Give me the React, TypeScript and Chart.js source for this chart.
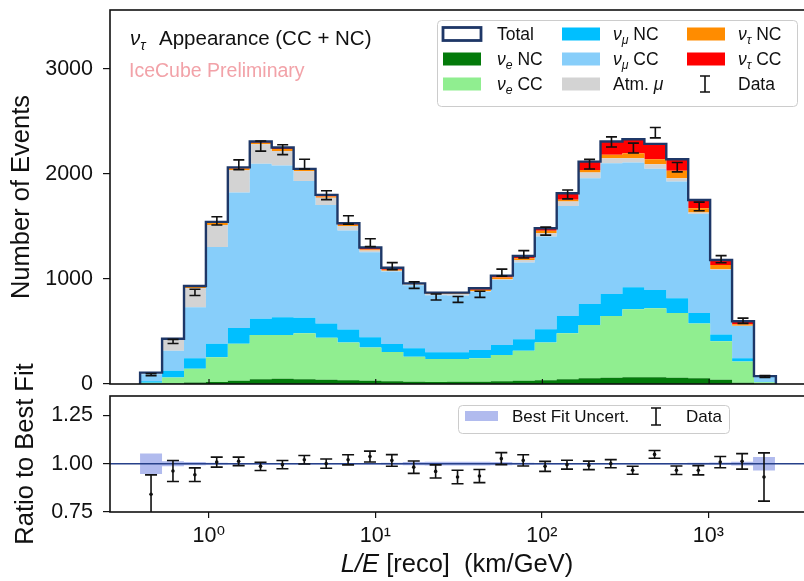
import React, { useEffect, useRef } from "react";
import { Chart, registerables } from "chart.js";

Chart.register(...registerables);

// ---------------- data ----------------
const binEdges = [
  0.386, 0.523, 0.708, 0.958, 1.297, 1.756, 2.377, 3.218, 4.355, 5.896, 7.98, 10.8, 14.62, 19.79, 26.79,
  36.27, 49.09, 66.45, 89.95, 121.8, 164.8, 223.1, 302.0, 408.9, 553.4, 749.2, 1014, 1373, 1858, 2515,
];
const nueNC = [2, 5, 15, 20, 30, 45, 50, 45, 40, 35, 30, 25, 22, 20, 22, 22, 25, 30, 35, 45, 55, 60, 65, 65, 60, 55, 40, 12, 2];
const nueCC = [10, 58, 131, 235, 353, 422, 417, 437, 400, 360, 318, 280, 238, 218, 216, 222, 251, 287, 359, 438, 507, 588, 646, 656, 616, 520, 366, 201, 15];
const numuNC = [15, 64, 99, 127, 150, 153, 168, 148, 135, 123, 96, 75, 80, 64, 64, 80, 95, 108, 126, 165, 200, 209, 210, 174, 140, 101, 64, 32, 5];
const numuCC = [65, 190, 485, 923, 1289, 1476, 1444, 1303, 1130, 942, 811, 692, 600, 543, 540, 555, 619, 731, 883, 1047, 1197, 1244, 1187, 1153, 1111, 943, 616, 307, 50];
const atmMu = [14, 105, 181, 209, 213, 185, 140, 93, 68, 45, 15, 6, 6, 12, 14, 6, 6, 25, 33, 42, 54, 48, 41, 44, 32, 13, 6, 2, 1];
const nutauNC = [1, 6, 15, 18, 17, 15, 19, 12, 12, 10, 10, 10, 6, 8, 8, 13, 18, 16, 22, 16, 25, 32, 48, 48, 70, 41, 41, 15, 1];
const nutauCC = [1, 3, 7, 11, 10, 12, 13, 10, 15, 15, 20, 18, 6, 5, 6, 13, 18, 22, 25, 63, 79, 127, 133, 146, 111, 79, 48, 28, 1];

const dataCounts = [90, 405, 872, 1553, 2087, 2265, 2230, 2093, 1797, 1562, 1345, 1122, 941, 828, 805, 854, 1060, 1235, 1455, 1804, 2092, 2304, 2246, 2392, 2064, 1690, 1188, 602, 72];
const dataErrors = [10, 20, 30, 39, 46, 48, 47, 46, 42, 40, 37, 33, 31, 29, 28, 29, 33, 35, 38, 42, 46, 48, 47, 49, 45, 41, 34, 25, 9];

const ratioValues = [0.842, 0.962, 0.943, 1.008, 1.012, 0.986, 0.995, 1.02, 1.0, 1.02, 1.037, 1.017, 0.982, 0.96, 0.931, 0.936, 1.026, 1.017, 0.986, 0.995, 0.991, 1.0, 0.966, 1.048, 0.966, 0.966, 1.008, 1.012, 0.931];
const ratioErrors = [0.1, 0.054, 0.035, 0.026, 0.022, 0.021, 0.021, 0.022, 0.024, 0.026, 0.028, 0.03, 0.032, 0.034, 0.035, 0.034, 0.031, 0.029, 0.026, 0.023, 0.022, 0.021, 0.021, 0.02, 0.022, 0.024, 0.029, 0.04, 0.125];
const fitUncert = [0.053, 0.013, 0.008, 0.005, 0.004, 0.004, 0.004, 0.004, 0.004, 0.004, 0.004, 0.005, 0.008, 0.01, 0.01, 0.01, 0.008, 0.005, 0.004, 0.004, 0.004, 0.004, 0.004, 0.004, 0.004, 0.005, 0.006, 0.01, 0.035];

const yTicksTop = [0, 1000, 2000, 3000];
const yTicksRatio = [0.75, 1.0, 1.25];
const xTicks = [1, 10, 100, 1000];
const xTickLabels = ["10⁰", "10¹", "10²", "10³"];

// ---------------- styling ----------------
const FONT = '"Liberation Sans", "DejaVu Sans", sans-serif';
const INK = "#111111";
const C = {
  eNC: "#037a0a",
  eCC: "#90ee90",
  muNC: "#00bfff",
  muCC: "#87cefa",
  atm: "#d3d3d3",
  tauNC: "#ff8c00",
  tauCC: "#ff0000",
  total: "#1e3767",
  band: "rgba(100,120,222,0.5)",
  one: "#27418a",
  pink: "#f2a2a8",
};
const X_MIN = 0.2547;
const X_MAX = 3973;
const BOT_TOP = 300; // page y of the ratio canvas

// ---------------- helpers ----------------
type Part = { t: string; it?: boolean; sub?: boolean; at?: number };

function partFont(p: Part, size: number) {
  const s = p.sub ? size * 0.7 : size;
  return `${p.it ? "italic " : ""}${s}px ${FONT}`;
}

function drawRich(ctx: CanvasRenderingContext2D, x: number, y: number, parts: Part[], size: number, color: string, center = false) {
  ctx.save();
  let cx = x;
  if (center) {
    let w = 0;
    for (const p of parts) {
      ctx.font = partFont(p, size);
      w += ctx.measureText(p.t).width;
    }
    cx = x - w / 2;
  }
  ctx.fillStyle = color;
  ctx.textBaseline = "alphabetic";
  ctx.textAlign = "left";
  for (const p of parts) {
    ctx.font = partFont(p, size);
    if (p.at !== undefined) cx = p.at;
    ctx.fillText(p.t, cx, y + (p.sub ? size * 0.22 : 0));
    cx += ctx.measureText(p.t).width;
  }
  ctx.restore();
}

function stepPoints(vals: number[], close: boolean) {
  const pts: { x: number; y: number }[] = [];
  if (close) pts.push({ x: binEdges[0], y: 0 });
  vals.forEach((v, i) => pts.push({ x: binEdges[i], y: v }));
  pts.push({ x: binEdges[vals.length], y: vals[vals.length - 1] });
  if (close) pts.push({ x: binEdges[vals.length], y: 0 });
  return pts;
}

const centers = binEdges.slice(0, -1).map((e, i) => Math.sqrt(e * binEdges[i + 1]));

function drawErrBar(ctx: CanvasRenderingContext2D, x: number, y1: number, y2: number, cap: number) {
  ctx.beginPath();
  ctx.moveTo(x, y1);
  ctx.lineTo(x, y2);
  ctx.moveTo(x - cap, y1);
  ctx.lineTo(x + cap, y1);
  ctx.moveTo(x - cap, y2);
  ctx.lineTo(x + cap, y2);
  ctx.stroke();
}

const noPad = (s: any) => {
  s.paddingTop = 0;
  s.paddingBottom = 0;
  s.paddingLeft = 0;
  s.paddingRight = 0;
};

// ---------------- plugins ----------------
const errorBars = {
  id: "errorBars",
  afterDatasetsDraw(chart: any, _a: any, opts: any) {
    if (!opts || !opts.errors) return;
    const ctx: CanvasRenderingContext2D = chart.ctx;
    const meta = chart.getDatasetMeta(opts.datasetIndex);
    const ds = chart.data.datasets[opts.datasetIndex].data;
    const ys = chart.scales.y;
    const a = chart.chartArea;
    ctx.save();
    ctx.beginPath();
    ctx.rect(a.left, a.top, a.right - a.left, a.bottom - a.top);
    ctx.clip();
    ctx.strokeStyle = INK;
    ctx.lineWidth = 1.6;
    meta.data.forEach((el: any, i: number) => {
      const v = ds[i].y;
      const e = opts.errors[i];
      const y1 = ys.getPixelForValue(v + e);
      const y2 = ys.getPixelForValue(v - e);
      drawErrBar(ctx, el.x, y1, y2, opts.cap);
    });
    ctx.restore();
  },
};

const frameBox = {
  id: "frameBox",
  afterDraw(chart: any) {
    const ctx: CanvasRenderingContext2D = chart.ctx;
    const a = chart.chartArea;
    ctx.save();
    ctx.strokeStyle = INK;
    ctx.lineWidth = 1.6;
    ctx.strokeRect(a.left, a.top, a.right - a.left, a.bottom - a.top);
    ctx.restore();
  },
};

function swatch(ctx: CanvasRenderingContext2D, x: number, y: number, w: number, h: number, color: string) {
  ctx.fillStyle = color;
  ctx.fillRect(x, y, w, h);
}

const topDecor = {
  id: "topDecor",
  afterDraw(chart: any) {
    const ctx: CanvasRenderingContext2D = chart.ctx;
    const xs = chart.scales.x;
    const a = chart.chartArea;
    // inward x ticks on the top panel
    ctx.save();
    ctx.strokeStyle = INK;
    ctx.lineWidth = 1.2;
    xTicks.forEach((v) => {
      const px = xs.getPixelForValue(v);
      ctx.beginPath();
      ctx.moveTo(px, a.bottom);
      ctx.lineTo(px, a.bottom - 5);
      ctx.stroke();
    });
    ctx.restore();

    // annotations
    drawRich(ctx, 130, 45, [{ t: "ν", it: true }, { t: "τ", it: true, sub: true }, { t: "Appearance (CC + NC)", at: 159 }], 20.5, INK);
    drawRich(ctx, 129, 77, [{ t: "IceCube Preliminary" }], 19.5, C.pink);

    // legend
    ctx.save();
    ctx.beginPath();
    (ctx as any).roundRect(437.5, 20.5, 360, 86, 4);
    ctx.fillStyle = "rgba(255,255,255,0.85)";
    ctx.fill();
    ctx.strokeStyle = "#cccccc";
    ctx.lineWidth = 1;
    ctx.stroke();

    const colSw = [443, 562, 687];
    const colTx = [497, 613, 738];
    const rowY = [34, 59, 84];
    const sw = 38;
    const sh = 13;
    const fs = 17.5;
    const nu = (s: string, rest: string): Part[] => [{ t: "ν", it: true }, { t: s, it: true, sub: true }, { t: rest }];
    const items: { c: number; r: number; kind: string; color?: string; label: Part[] }[] = [
      { c: 0, r: 0, kind: "total", label: [{ t: "Total" }] },
      { c: 0, r: 1, kind: "fill", color: C.eNC, label: nu("e", " NC") },
      { c: 0, r: 2, kind: "fill", color: C.eCC, label: nu("e", " CC") },
      { c: 1, r: 0, kind: "fill", color: C.muNC, label: nu("μ", " NC") },
      { c: 1, r: 1, kind: "fill", color: C.muCC, label: nu("μ", " CC") },
      { c: 1, r: 2, kind: "fill", color: C.atm, label: [{ t: "Atm. " }, { t: "μ", it: true }] },
      { c: 2, r: 0, kind: "fill", color: C.tauNC, label: nu("τ", " NC") },
      { c: 2, r: 1, kind: "fill", color: C.tauCC, label: nu("τ", " CC") },
      { c: 2, r: 2, kind: "err", label: [{ t: "Data" }] },
    ];
    items.forEach((it) => {
      const cy = rowY[it.r];
      const x0 = colSw[it.c];
      if (it.kind === "total") {
        ctx.fillStyle = "#ffffff";
        ctx.fillRect(x0, cy - sh / 2, sw, sh);
        ctx.strokeStyle = C.total;
        ctx.lineWidth = 2.8;
        ctx.strokeRect(x0, cy - sh / 2, sw, sh);
      } else if (it.kind === "fill") {
        swatch(ctx, x0, cy - sh / 2, sw, sh, it.color as string);
      } else {
        ctx.strokeStyle = INK;
        ctx.lineWidth = 1.6;
        drawErrBar(ctx, x0 + 18, cy - 8, cy + 8, 5);
      }
      drawRich(ctx, colTx[it.c], cy + 6, it.label, fs, INK);
    });
    ctx.restore();
  },
};

const ratioDecor = {
  id: "ratioDecor",
  afterDraw(chart: any) {
    const ctx: CanvasRenderingContext2D = chart.ctx;
    const a = chart.chartArea;
    const top = a.top;
    ctx.save();
    ctx.beginPath();
    (ctx as any).roundRect(458.5, top + 9.5, 271, 28, 4);
    ctx.fillStyle = "rgba(255,255,255,0.85)";
    ctx.fill();
    ctx.strokeStyle = "#cccccc";
    ctx.lineWidth = 1;
    ctx.stroke();
    const cy = top + 20;
    swatch(ctx, 465, cy - 5, 33, 10, C.band);
    drawRich(ctx, 512, cy + 6, [{ t: "Best Fit Uncert." }], 17, INK);
    ctx.strokeStyle = INK;
    ctx.lineWidth = 1.6;
    drawErrBar(ctx, 656, cy - 8, cy + 9, 5);
    drawRich(ctx, 686, cy + 6, [{ t: "Data" }], 17, INK);
    ctx.restore();
    // x-axis title with italic L/E
    drawRich(ctx, (a.left + a.right) / 2 - 2, 572 - BOT_TOP, [{ t: "L/E", it: true }, { t: " [reco]  (km/GeV)" }], 25.5, INK, true);
  },
};

// ---------------- configs ----------------
function topConfig(): any {
  const comps = [nueNC, nueCC, numuNC, numuCC, atmMu, nutauNC, nutauCC];
  const colors = [C.eNC, C.eCC, C.muNC, C.muCC, C.atm, C.tauNC, C.tauCC];
  const cum: number[][] = [];
  comps.forEach((arr, k) => {
    cum.push(arr.map((v, i) => v + (k > 0 ? cum[k - 1][i] : 0)));
  });
  const total = cum[cum.length - 1];
  const datasets: any[] = cum.map((vals, k) => ({
    data: stepPoints(vals, true),
    stepped: "before",
    borderWidth: 0,
    borderColor: "rgba(0,0,0,0)",
    backgroundColor: colors[k],
    fill: k === 0 ? "origin" : "-1",
    pointRadius: 0,
    order: 5,
  }));
  datasets.push({
    data: stepPoints(total, true),
    stepped: "before",
    borderWidth: 2.4,
    borderColor: C.total,
    fill: false,
    pointRadius: 0,
    order: 1,
  });
  datasets.push({
    data: dataCounts.map((v, i) => ({ x: centers[i], y: v })),
    showLine: false,
    pointRadius: 0,
    order: 0,
  });
  return {
    type: "line",
    data: { datasets },
    options: {
      animation: false,
      responsive: false,
      devicePixelRatio: 1,
      layout: { padding: { top: 10, bottom: 6, left: 0, right: 3 } },
      plugins: {
        legend: { display: false },
        tooltip: { enabled: false },
        errorBars: { datasetIndex: datasets.length - 1, errors: dataErrors, cap: 5.5 },
      },
      scales: {
        x: { type: "logarithmic", min: X_MIN, max: X_MAX, display: false, afterFit: noPad },
        y: {
          type: "linear",
          min: 0,
          max: 3560,
          afterBuildTicks: (s: any) => {
            s.ticks = yTicksTop.map((v) => ({ value: v }));
          },
          afterFit: (s: any) => {
            s.width = 110;
            noPad(s);
          },
          border: { display: false },
          grid: { drawOnChartArea: false, drawTicks: true, tickLength: 7, color: INK, lineWidth: 1.2 },
          ticks: { padding: 10, color: INK, font: { size: 21.5, family: FONT }, callback: (v: any) => String(v) },
          title: { display: true, text: "Number of Events", color: INK, font: { size: 25.5, family: FONT }, padding: { top: 7, bottom: 0 } },
        },
      },
    },
    plugins: [errorBars, frameBox, topDecor],
  };
}

function ratioConfig(): any {
  const datasets: any[] = [
    {
      data: stepPoints(fitUncert.map((e) => 1 - e), false),
      stepped: "before",
      borderWidth: 0,
      borderColor: "rgba(0,0,0,0)",
      fill: false,
      pointRadius: 0,
      order: 3,
    },
    {
      data: stepPoints(fitUncert.map((e) => 1 + e), false),
      stepped: "before",
      borderWidth: 0,
      borderColor: "rgba(0,0,0,0)",
      backgroundColor: C.band,
      fill: "-1",
      pointRadius: 0,
      order: 3,
    },
    {
      data: [
        { x: X_MIN, y: 1 },
        { x: X_MAX, y: 1 },
      ],
      borderWidth: 1.5,
      borderColor: C.one,
      fill: false,
      pointRadius: 0,
      order: 2,
    },
    {
      data: ratioValues.map((v, i) => ({ x: centers[i], y: v })),
      showLine: false,
      pointRadius: 1.8,
      pointBorderWidth: 0,
      pointBackgroundColor: INK,
      order: 1,
    },
  ];
  return {
    type: "line",
    data: { datasets },
    options: {
      animation: false,
      responsive: false,
      devicePixelRatio: 1,
      layout: { padding: { top: 396 - BOT_TOP, bottom: 0, left: 0, right: 3 } },
      plugins: {
        legend: { display: false },
        tooltip: { enabled: false },
        errorBars: { datasetIndex: 3, errors: ratioErrors, cap: 6 },
      },
      scales: {
        x: {
          type: "logarithmic",
          min: X_MIN,
          max: X_MAX,
          afterBuildTicks: (s: any) => {
            s.ticks = xTicks.map((v) => ({ value: v }));
          },
          afterFit: (s: any) => {
            s.height = 581 - 512;
            noPad(s);
          },
          border: { display: false },
          grid: { drawOnChartArea: false, drawTicks: true, tickLength: 6, color: INK, lineWidth: 1.2 },
          ticks: {
            padding: 5,
            color: INK,
            maxRotation: 0,
            autoSkip: false,
            font: { size: 21.5, family: FONT },
            callback: (v: any) => {
              const idx = xTicks.indexOf(Number(v));
              return idx >= 0 ? xTickLabels[idx] : "";
            },
          },
          title: { display: false },
        },
        y: {
          type: "linear",
          min: 0.75,
          max: 1.35,
          afterBuildTicks: (s: any) => {
            s.ticks = yTicksRatio.map((v) => ({ value: v }));
          },
          afterFit: (s: any) => {
            s.width = 110;
            noPad(s);
          },
          border: { display: false },
          grid: { drawOnChartArea: false, drawTicks: true, tickLength: 7, color: INK, lineWidth: 1.2 },
          ticks: { padding: 10, color: INK, font: { size: 21.5, family: FONT }, callback: (v: any) => Number(v).toFixed(2) },
          title: { display: true, text: "Ratio to Best Fit", color: INK, font: { size: 25.5, family: FONT }, padding: { top: 11, bottom: 0 } },
        },
      },
    },
    plugins: [errorBars, frameBox, ratioDecor],
  };
}

export default function App() {
  const topRef = useRef<HTMLCanvasElement | null>(null);
  const botRef = useRef<HTMLCanvasElement | null>(null);
  useEffect(() => {
    Chart.defaults.font.family = FONT;
    Chart.defaults.color = INK;
    const c1 = new Chart(topRef.current as HTMLCanvasElement, topConfig());
    const c2 = new Chart(botRef.current as HTMLCanvasElement, ratioConfig());
    return () => {
      c1.destroy();
      c2.destroy();
    };
  }, []);
  return (
    <div style={{ position: "absolute", left: 0, top: 0, width: 804, height: 581, overflow: "hidden", background: "#ffffff" }}>
      <canvas ref={topRef} width={812} height={390} style={{ position: "absolute", left: 0, top: 0, width: 812, height: 390, display: "block" }} />
      <canvas
        ref={botRef}
        width={812}
        height={581 - BOT_TOP}
        style={{ position: "absolute", left: 0, top: BOT_TOP, width: 812, height: 581 - BOT_TOP, display: "block" }}
      />
    </div>
  );
}
